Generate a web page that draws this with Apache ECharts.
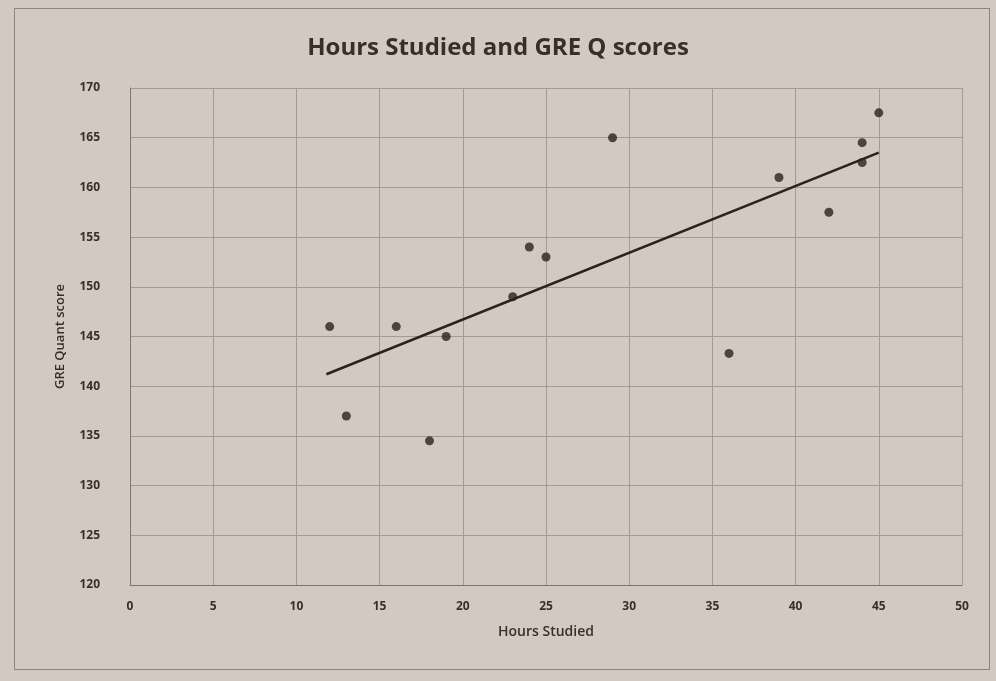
<!DOCTYPE html>
<html>
<head>
<meta charset="utf-8">
<script src="https://cdn.jsdelivr.net/npm/echarts@6/dist/echarts.min.js"></script>
<style>
  html, body { margin: 0; padding: 0; background: #d2cac2; }
  #frame {
    position: absolute; left: 14px; top: 8px; width: 974px; height: 660px;
    border: 1px solid #8d857e;
  }
  #chart { position: absolute; left: 0; top: 0; width: 996px; height: 681px; }
</style>
</head>
<body>
<div id="frame"></div>
<div id="chart"></div>
<script>
// values
const hours = [12, 13, 16, 18, 19, 23, 24, 25, 29, 36, 39, 42, 44, 44, 45];
const scores = [146, 137, 146, 134.5, 145, 149, 154, 153, 165, 143.3, 161, 157.5, 164.5, 162.5, 167.5];
// linear trendline endpoints as drawn
const trendHours = [11.8, 45];
const trendScores = [141.2, 163.5];

const textColor = '#36302c';
const gridColor = '#a39b93';
const font = '"Open Sans", sans-serif';

const chart = echarts.init(document.getElementById('chart'));

chart.setOption({
  animation: false,
  backgroundColor: 'transparent',
  title: {
    text: 'Hours Studied and GRE Q scores',
    left: 'center',
    top: 31,
    textStyle: { color: textColor, fontFamily: font, fontSize: 24, fontWeight: 'bold' },
  },
  grid: { left: 130, right: 34, top: 88, bottom: 96 },
  xAxis: {
    type: 'value',
    min: 0,
    max: 50,
    interval: 5,
    name: 'Hours Studied',
    nameLocation: 'middle',
    nameGap: 40,
    nameTextStyle: { color: textColor, fontFamily: font, fontSize: 14, fontWeight: 600 },
    axisLine: { show: true, lineStyle: { color: '#7d756e', width: 1 } },
    axisTick: { show: false },
    axisLabel: { color: textColor, fontFamily: font, fontSize: 12, fontWeight: 'bold', margin: 16 },
    splitLine: { show: true, lineStyle: { color: gridColor, width: 1 } },
  },
  yAxis: {
    type: 'value',
    min: 120,
    max: 170,
    interval: 5,
    name: 'GRE Quant score',
    nameLocation: 'middle',
    nameGap: 63,
    nameTextStyle: { color: textColor, fontFamily: font, fontSize: 13, fontWeight: 600 },
    axisLine: { show: true, lineStyle: { color: '#7d756e', width: 1 } },
    axisTick: { show: false },
    axisLabel: { color: textColor, fontFamily: font, fontSize: 12, fontWeight: 'bold', margin: 30 },
    splitLine: { show: true, lineStyle: { color: gridColor, width: 1 } },
  },
  series: [
    {
      name: 'Scores',
      type: 'scatter',
      data: hours.map((h, i) => [h, scores[i]]),
      symbol: 'circle',
      symbolSize: 9,
      itemStyle: { color: '#29231f' },
      z: 3,
    },
    {
      name: 'Trend',
      type: 'line',
      data: trendHours.map((h, i) => [h, trendScores[i]]),
      symbol: 'none',
      lineStyle: { color: '#29231f', width: 2.5 },
      z: 2,
    },
  ],
});
</script>
</body>
</html>
